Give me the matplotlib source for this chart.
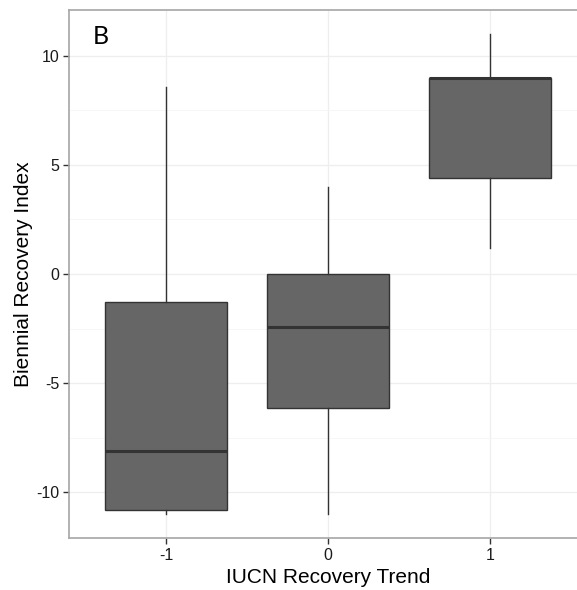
import matplotlib
matplotlib.use('Agg')
import matplotlib.pyplot as plt

plt.rcParams['font.family'] = ['Liberation Sans', 'DejaVu Sans']

# IUCN trend categories and the five-number summaries of the recovery index
trend = ['-1', '0', '1']
whislo = [-11.0, -11.0, 1.2]
q1 = [-10.8, -6.15, 4.4]
med = [-8.1, -2.45, 9.0]
q3 = [-1.3, 0.0, 9.0]
whishi = [8.55, 4.0, 11.0]

stats = []
for i in range(len(trend)):
    stats.append({'label': trend[i], 'whislo': whislo[i], 'q1': q1[i],
                  'med': med[i], 'q3': q3[i], 'whishi': whishi[i], 'fliers': []})

fig = plt.figure(figsize=(5.77, 5.90), dpi=100)
ax = fig.add_axes([0.1196, 0.0881, 0.8977, 0.8949])

ax.bxp(stats, positions=[1, 2, 3], widths=0.75, patch_artist=True,
       showcaps=False,
       boxprops=dict(facecolor='#666666', edgecolor='#333333', linewidth=1.0),
       medianprops=dict(color='#333333', linewidth=2.2),
       whiskerprops=dict(color='#333333', linewidth=1.0),
       zorder=3)

ax.set_xlim(0.4, 3.6)
ax.set_ylim(-12.1, 12.1)
ax.set_xticks([1, 2, 3])
ax.set_xticklabels(trend)
ax.set_yticks([-10, -5, 0, 5, 10])
ax.set_yticklabels(['-10', '-5', '0', '5', '10'])
ax.set_yticks([-7.5, -2.5, 2.5, 7.5], minor=True)

ax.grid(True, which='major', color='#eeeeee', linewidth=0.9, zorder=0)
ax.grid(True, which='minor', axis='y', color='#f6f6f6', linewidth=0.7, zorder=0)
ax.tick_params(axis='both', which='major', length=4, width=1, color='#333333',
               labelsize=11.5, labelcolor='#1a1a1a', pad=3)
ax.tick_params(axis='y', which='minor', length=0)
for s in ax.spines.values():
    s.set_color('#a6a6a6')
    s.set_linewidth(1.2)
ax.spines['right'].set_visible(False)

ax.set_xlabel('IUCN Recovery Trend', fontsize=15, labelpad=4)
ax.set_ylabel('Biennial Recovery Index', fontsize=15, labelpad=2)

fig.text(0.161, 0.925, 'B', fontsize=18, family=['Lato', 'DejaVu Sans'])

fig.savefig('out.png', dpi=100)
